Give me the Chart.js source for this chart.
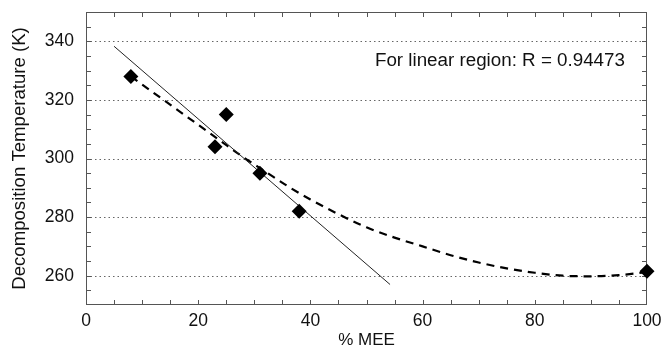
<!DOCTYPE html>
<html>
<head>
<meta charset="utf-8">
<script src="https://cdn.jsdelivr.net/npm/chart.js@4.4.1/dist/chart.umd.min.js"></script>
<style>
  html, body { margin: 0; padding: 0; background: #fff; }
  #wrap { width: 661px; height: 346px; }
</style>
</head>
<body>
<div id="wrap"><canvas id="mee"></canvas></div>
<script>
// measured points (% MEE vs decomposition temperature)
const meeX = [8, 23, 25, 31, 38, 100];
const tempK = [328, 304, 315, 295, 282, 261.5];

// straight fit over the linear region, end points
const linX = [5, 54.2];
const linY = [338.3, 257];

// dashed curve
const curveX = [8, 12, 16, 20, 24, 28, 32, 36, 40, 45, 50, 55, 60, 65, 70, 75, 80, 85, 90, 95, 100];
const curveY = [328, 322.5, 317, 311.5, 306, 300.5, 295.5, 290.5, 286, 281, 276.5, 273, 270, 267, 264.5, 262.5, 261, 260, 259.8, 260.2, 261.2];

const xTicks = [0, 20, 40, 60, 80, 100];
const yTicks = [260, 280, 300, 320, 340];
const rText = 'For linear region: R = 0.94473';

const FONT = '"Liberation Sans", Arial, Helvetica, sans-serif';

const pairs = (xs, ys) => xs.map((x, i) => ({x: x, y: ys[i]}));

// box, dotted grid and inward tick marks
const frame = {
    id: 'frame',
    beforeDatasetsDraw(chart) {
        const {ctx, chartArea: a, scales: {x, y}} = chart;
        ctx.save();
        ctx.lineWidth = 1;
        ctx.strokeStyle = '#666';
        ctx.setLineDash([1.5, 3]);
        yTicks.forEach(v => {
            const py = Math.round(y.getPixelForValue(v)) + 0.5;
            ctx.beginPath();
            ctx.moveTo(a.left, py);
            ctx.lineTo(a.right, py);
            ctx.stroke();
        });
        ctx.setLineDash([]);
        ctx.strokeStyle = '#555';
        ctx.strokeRect(a.left + 0.5, a.top + 0.5, a.right - a.left - 1, a.bottom - a.top - 1);
        for (let v = 5; v < 100; v += 5) {
            const px = Math.round(x.getPixelForValue(v)) + 0.5;
            ctx.beginPath();
            ctx.moveTo(px, a.bottom); ctx.lineTo(px, a.bottom - 5);
            ctx.moveTo(px, a.top); ctx.lineTo(px, a.top + 5);
            ctx.stroke();
        }
        for (let v = 255; v < 350; v += 5) {
            const py = Math.round(y.getPixelForValue(v)) + 0.5;
            ctx.beginPath();
            ctx.moveTo(a.left, py); ctx.lineTo(a.left + 5, py);
            ctx.moveTo(a.right, py); ctx.lineTo(a.right - 5, py);
            ctx.stroke();
        }
        ctx.restore();
    },
    afterDraw(chart) {
        const {ctx, scales: {x, y}} = chart;
        ctx.save();
        ctx.fillStyle = '#111';
        ctx.font = '18.8px ' + FONT;
        ctx.textAlign = 'left';
        ctx.textBaseline = 'middle';
        ctx.fillText(rText, x.getPixelForValue(51.5), y.getPixelForValue(333.5));
        ctx.restore();
    }
};

new Chart(document.getElementById('mee'), {
    type: 'scatter',
    data: {
        datasets: [
            {
                label: 'data',
                data: pairs(meeX, tempK),
                pointStyle: 'rectRot',
                pointRadius: 7.5,
                backgroundColor: '#000',
                borderColor: '#000',
                borderWidth: 0,
                clip: false,
                order: 0
            },
            {
                label: 'linear',
                type: 'line',
                data: pairs(linX, linY),
                borderColor: '#222',
                borderWidth: 1,
                pointRadius: 0,
                order: 1
            },
            {
                label: 'curve',
                type: 'line',
                data: pairs(curveX, curveY),
                borderColor: '#000',
                borderWidth: 2.2,
                borderDash: [8, 6],
                cubicInterpolationMode: 'monotone',
                pointRadius: 0,
                order: 2
            }
        ]
    },
    options: {
        responsive: true,
        maintainAspectRatio: false,
        animation: false,
        layout: { padding: { top: 12, right: 14, left: 0, bottom: 0 } },
        plugins: { legend: { display: false }, tooltip: { enabled: false } },
        scales: {
            x: {
                type: 'linear',
                min: 0,
                max: 100,
                grid: { display: false, drawTicks: false },
                border: { display: false },
                afterBuildTicks: s => { s.ticks = xTicks.map(v => ({value: v})); },
                afterFit: s => { s.height = 41; s.paddingLeft = 0; s.paddingRight = 0; },
                ticks: { color: '#111', padding: 6, maxRotation: 0, font: { family: FONT, size: 17.5 } },
                title: {
                    display: true,
                    text: '% MEE',
                    color: '#111',
                    font: { family: FONT, size: 17, lineHeight: 1 },
                    padding: { top: 0, bottom: -3 }
                }
            },
            y: {
                min: 250,
                max: 350,
                grid: { display: false, drawTicks: false },
                border: { display: false },
                afterBuildTicks: s => { s.ticks = yTicks.map(v => ({value: v})); },
                afterFit: s => { s.width = 86; s.paddingTop = 0; s.paddingBottom = 0; },
                ticks: { color: '#111', padding: 12, font: { family: FONT, size: 17.5 } },
                title: {
                    display: true,
                    text: 'Decomposition Temperature (K)',
                    color: '#111',
                    font: { family: FONT, size: 18.6, lineHeight: 1 },
                    padding: { top: 11, bottom: 0 }
                }
            }
        }
    },
    plugins: [frame]
});
</script>
</body>
</html>
